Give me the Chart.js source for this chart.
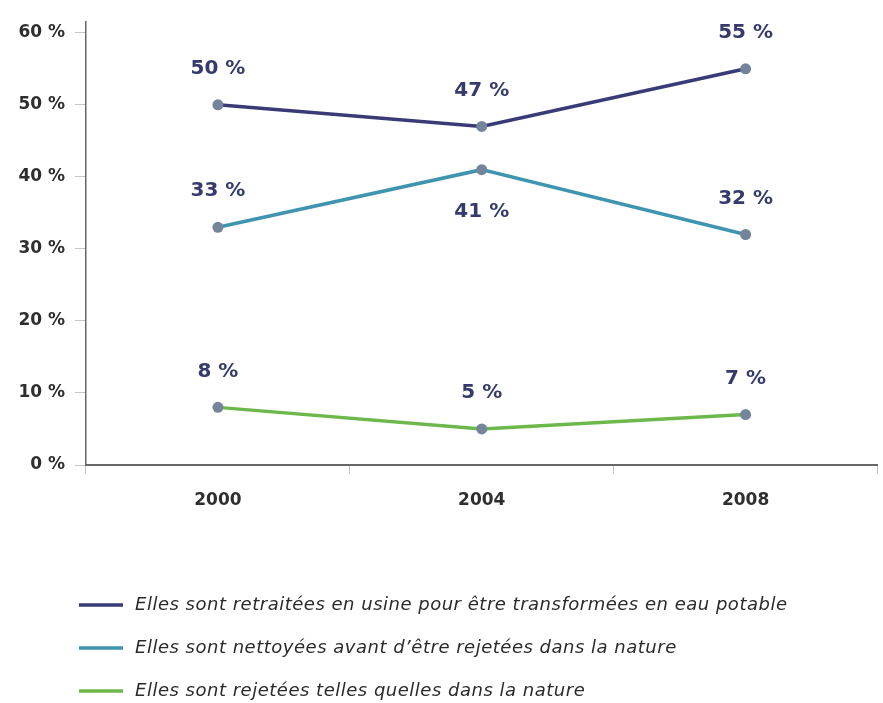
<!DOCTYPE html>
<html lang="fr">
<head>
<meta charset="utf-8">
<title>Eaux usées</title>
<script src="https://cdn.jsdelivr.net/npm/chart.js@4/dist/chart.umd.min.js"></script>
<style>
  html, body { margin: 0; padding: 0; background: #fff; }
</style>
</head>
<body>
<canvas id="chart" width="883" height="703"></canvas>
<script>
"use strict";

// Data
const years = ['2000', '2004', '2008'];
const usineValues = [50, 47, 55];
const nettoyeesValues = [33, 41, 32];
const rejeteesValues = [8, 5, 7];
const yTicks = [0, 10, 20, 30, 40, 50, 60];
const seriesLabels = [
  'Elles sont retraitées en usine pour être transformées en eau potable',
  'Elles sont nettoyées avant d\u2019être rejetées dans la nature',
  'Elles sont rejetées telles quelles dans la nature'
];

const TICK_FONT = { family: '"DejaVu Sans", sans-serif', size: 17, weight: 'bold' };
const TICK_COLOR = '#2e2e2e';

function makeSeries(label, data, color, sides) {
  return {
    label: label,
    data: data,
    borderColor: color,
    backgroundColor: color,
    borderWidth: 3.5,
    tension: 0,
    pointRadius: 5.5,
    pointHoverRadius: 5.5,
    pointBorderWidth: 0,
    pointBackgroundColor: '#74849a',
    labelSides: sides
  };
}

// Value labels above (or below) each point
const valueLabels = {
  id: 'valueLabels',
  afterDatasetsDraw(chart) {
    const ctx = chart.ctx;
    ctx.save();
    ctx.font = 'bold 20px "DejaVu Sans", sans-serif';
    ctx.fillStyle = '#363a6c';
    ctx.textAlign = 'center';
    ctx.textBaseline = 'middle';
    chart.data.datasets.forEach((ds, i) => {
      chart.getDatasetMeta(i).data.forEach((pt, j) => {
        const dy = ds.labelSides[j] === 'below' ? 42 : -36;
        ctx.fillText(ds.data[j] + ' %', pt.x, pt.y + dy);
      });
    });
    ctx.restore();
  }
};

// Vertical legend list under the plot
const legendList = {
  id: 'legendList',
  afterDraw(chart) {
    const ctx = chart.ctx;
    const textX = 135;
    ctx.save();
    ctx.font = 'italic 18px "DejaVu Sans", sans-serif';
    ctx.fillStyle = '#2a2a2a';
    ctx.textBaseline = 'middle';
    // adjust spacing so the longest line ends near x=787
    const first = chart.data.datasets[0].label;
    const w = ctx.measureText(first).width;
    const extra = Math.min(1.5, Math.max(-1, (787 - textX - w) / (first.length - 1)));
    ctx.letterSpacing = extra + 'px';
    chart.data.datasets.forEach((ds, i) => {
      const y = 605 + i * 43;
      ctx.strokeStyle = ds.borderColor;
      ctx.lineWidth = 3.5;
      ctx.beginPath();
      ctx.moveTo(79, y);
      ctx.lineTo(123, y);
      ctx.stroke();
      ctx.fillText(ds.label, textX, y);
    });
    ctx.restore();
  }
};

const chart = new Chart(document.getElementById('chart'), {
  type: 'line',
  data: {
    labels: years,
    datasets: [
      makeSeries(seriesLabels[0], usineValues, '#383b76', ['above', 'above', 'above']),
      makeSeries(seriesLabels[1], nettoyeesValues, '#3f95b0', ['above', 'below', 'above']),
      makeSeries(seriesLabels[2], rejeteesValues, '#6cb84b', ['above', 'above', 'above'])
    ]
  },
  options: {
    responsive: false,
    devicePixelRatio: 1,
    animation: false,
    layout: { padding: { top: 22, right: 5, bottom: 178, left: 0 } },
    plugins: {
      legend: { display: false },
      tooltip: { enabled: false }
    },
    scales: {
      x: {
        offset: true,
        grid: { offset: true, drawOnChartArea: false, tickLength: 9, color: '#c4c4c4' },
        border: { color: '#676767', width: 2 },
        ticks: { padding: 16, font: TICK_FONT, color: TICK_COLOR },
        afterFit(scale) { scale.height = 60; }
      },
      y: {
        min: 0,
        max: 61.5,
        afterBuildTicks(scale) { scale.ticks = yTicks.map(v => ({ value: v })); },
        ticks: {
          padding: 10,
          font: TICK_FONT,
          color: TICK_COLOR,
          callback: v => v + ' %'
        },
        grid: { drawOnChartArea: false, tickLength: 11, color: '#c4c4c4' },
        border: { color: '#676767', width: 1.5 },
        afterFit(scale) { scale.width = 86; }
      }
    }
  },
  plugins: [valueLabels, legendList]
});
</script>
</body>
</html>
